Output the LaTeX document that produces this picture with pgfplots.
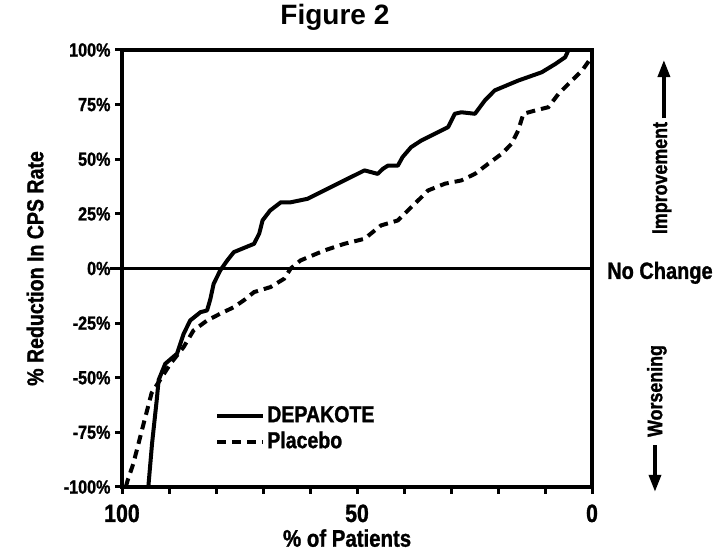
\documentclass[border=0pt]{standalone}
\usepackage{fontspec}
\setmainfont{Liberation Sans}
\newfontfamily\cond{Liberation Sans}[FakeStretch=0.85, BoldFeatures={FakeBold=1.2}]
\usepackage{pgfplots}
\pgfplotsset{compat=1.18}
\usetikzlibrary{arrows.meta}

\pgfplotstableread{
x y
94.4 -100
93.6 -80
92.6 -60
92.2 -51
90.8 -43.6
88.3 -39
86.9 -30
85.5 -23.8
83.3 -20
81.9 -19.2
81.2 -14
80.5 -7
79.1 -0.9
77.6 3.7
76.2 7.5
71.9 11.3
70.8 16
70.1 22
68.5 26.5
66.2 30.3
64.1 30.3
60.5 31.9
55.6 37.2
51.3 41.8
48.4 44.9
45.6 43.3
44.5 45.6
43.4 47.1
41.3 47.1
40.3 51
38.5 55.5
36.3 58.6
30.6 64.7
29.2 70.8
27.8 71.5
24.9 70.8
22.8 76.9
20.7 81.5
15.7 86
10.7 89.8
7.8 93.6
5.7 96.7
5.0 100
}\depakote

\pgfplotstableread{
x y
99.2 -100
98.8 -97
97.6 -89.4
95.4 -71
93.7 -57
91.9 -51
89.7 -43.6
86.9 -36
84.8 -28.4
81.9 -23.8
79.1 -20.7
76.2 -17.7
74.1 -14.6
71.9 -10.8
68.4 -8.5
65.5 -4.7
64.1 0
62.0 3.7
57.0 8.2
52.7 11.3
48.4 13.6
44.9 19.7
41.3 22
38.5 28
36.3 32.6
34.9 35.7
31.3 38.8
27.8 40.3
24.9 43.3
22.1 47.9
19.2 52.5
17.1 57.1
15.7 63.2
14.6 70.8
12.1 72.3
9.3 73.8
7.1 80
4.3 86
2.1 90.6
0.0 97
}\placebo

\begin{document}
\begin{tikzpicture}
\begin{axis}[
  at={(0,0)}, anchor=south west,
  scale only axis, width=470pt, height=437pt,
  xmin=0, xmax=100, ymin=-100, ymax=100,
  x dir=reverse,
  clip=false,
  axis line style={line width=4pt},
  tick align=outside,
  major tick length=7pt,
  tick style={line width=3pt, black},
  xtick pos=left, ytick pos=left,
  xtick={0,10,...,100},
  xticklabels={0,,,,,50,,,,,100},
  ytick={-100,-75,...,100},
  yticklabels={-100\%,-75\%,-50\%,-25\%,0\%,25\%,50\%,75\%,100\%},
  xticklabel style={font=\cond\bfseries\fontsize{25}{27}\selectfont, yshift=-7pt},
  yticklabel style={font=\cond\bfseries\fontsize{19}{21}\selectfont, xshift=-1pt},
  xlabel={\% of Patients},
  xlabel style={at={(axis description cs:0.479,-0.117)}, anchor=center, font=\cond\bfseries\fontsize{24}{26}\selectfont},
  ylabel={\% Reduction In CPS Rate},
  ylabel style={at={(axis description cs:-0.185,0.5)}, anchor=center, rotate=0, font=\cond\bfseries\fontsize{23}{25}\selectfont},
  title={Figure 2},
  title style={at={(axis description cs:0.453,1.062)}, anchor=center, font=\bfseries\fontsize{28}{30}\selectfont},
  legend image code/.code={\draw[#1] (0pt,0pt) -- (46pt,0pt);},
  legend style={draw=none, fill=none, at={(axis description cs:0.198,0.19)}, anchor=north west,
    font=\cond\bfseries\fontsize{23}{25}\selectfont,
    inner sep=0pt, row sep=3pt,
    nodes={inner xsep=2pt, inner ysep=1pt, text height=17pt, text depth=4pt}},
  legend cell align=left,
]
\addplot[black, line width=4pt, line join=round] table[x=x,y=y] {\depakote};
\addlegendentry{DEPAKOTE}
\addplot[black, line width=4pt, dash pattern=on 9pt off 6pt] table[x=x,y=y] {\placebo};
\addlegendentry{Placebo}
\addplot[black, line width=3.5pt, forget plot] coordinates {(102.5,0) (0,0)};

\node[anchor=west, font=\cond\bfseries\fontsize{23.5}{25}\selectfont, inner sep=0pt] at (axis description cs:1.032,0.49) {No Change};
\node[rotate=90, font=\cond\bfseries\fontsize{21}{23}\selectfont, inner sep=0pt] at (axis description cs:1.149,0.707) {Improvement};
\draw[line width=3.5pt, -{Triangle[length=17pt,width=12pt]}] (axis description cs:1.153,0.844) -- (axis description cs:1.153,0.977);
\node[rotate=90, font=\cond\bfseries\fontsize{21}{23}\selectfont, inner sep=0pt] at (axis description cs:1.138,0.2197) {Worsening};
\draw[line width=3.5pt, -{Triangle[length=17pt,width=12pt]}] (axis description cs:1.134,0.096) -- (axis description cs:1.134,-0.011);

\coordinate (bl) at (axis description cs:-0.2596,-0.1648);
\coordinate (tr) at (axis description cs:1.2617,1.1144);
\end{axis}
\pgfresetboundingbox
\path (bl) rectangle (tr);
\end{tikzpicture}
\end{document}
